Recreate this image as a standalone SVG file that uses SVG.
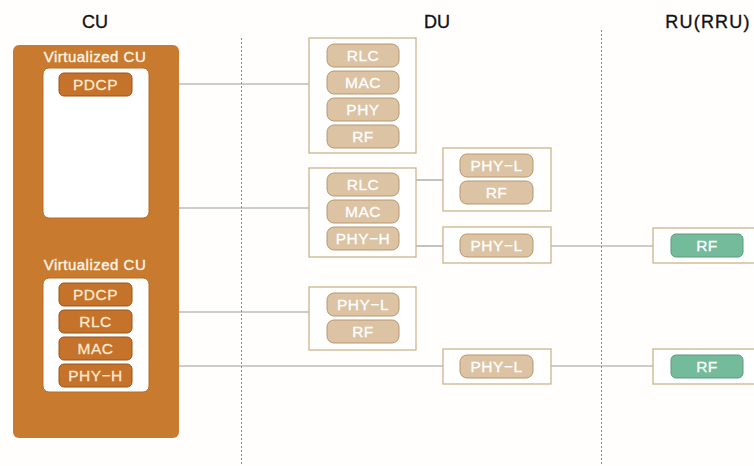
<svg xmlns="http://www.w3.org/2000/svg" width="754" height="466" viewBox="0 0 754 466">
<style>
text{font-family:"Liberation Sans",Arial,sans-serif;text-anchor:middle;dominant-baseline:central}
.title{font-size:18px;fill:#111;stroke:#111;stroke-width:0.35}
.vcu{font-size:15px;fill:#fff4e6;stroke:#fff4e6;stroke-width:0.4;letter-spacing:0.5px}
.inner{fill:#fff;stroke:#b86a22;stroke-width:1}
.op{fill:#c5722a;stroke:#9a5418;stroke-width:1}
.opt{font-size:15.5px;fill:#fde9cf;stroke:#fde9cf;stroke-width:0.3;letter-spacing:0.5px}
.box{fill:#fff;stroke:#cbb48c;stroke-width:1.3}
.tp{fill:#dcc3a4;stroke:#b8966c;stroke-width:1}
.tpt{font-size:15.5px;fill:#fff;stroke:#fff;stroke-width:0.3;letter-spacing:0.5px}
.gp{fill:#74bb9c;stroke:#5a9a7e;stroke-width:1}
.conn line{stroke:#9a9a9a;stroke-width:1.2}
.sep{stroke:#888;stroke-width:1;stroke-dasharray:2 2}
</style>
<rect width="754" height="466" fill="#fffefc"/>
<g id="titles">
<text class="title" x="95" y="22">CU</text>
<text class="title" x="437" y="22">DU</text>
<text class="title" x="708" y="22" style="letter-spacing:1.2px">RU(RRU)</text>
</g>
<g id="separators">
<line class="sep" x1="241.5" y1="38" x2="241.5" y2="466"/>
<line class="sep" x1="601.5" y1="30" x2="601.5" y2="466"/>
</g>
<g class="conn" id="connectors">
<line x1="179" y1="84" x2="309" y2="84"/>
<line x1="179" y1="208" x2="309" y2="208"/>
<line x1="179" y1="312" x2="309" y2="312"/>
<line x1="179" y1="366" x2="443" y2="366"/>
<line x1="416" y1="180" x2="443" y2="180"/>
<line x1="416" y1="246" x2="443" y2="246"/>
<line x1="551" y1="246" x2="653" y2="246"/>
<line x1="551" y1="366" x2="653" y2="366"/>
</g>
<g id="cu">
<rect x="13" y="45" width="166" height="393" rx="6" fill="#c87a2e"/>
<g id="vcu1">
<text class="vcu" x="95" y="56">Virtualized CU</text>
<rect class="inner" x="43" y="68" width="106" height="150" rx="6"/>
<rect class="op" x="59" y="73" width="73" height="23" rx="5"/>
<text class="opt" x="95.5" y="84.5">PDCP</text>
</g>
<g id="vcu2">
<text class="vcu" x="95" y="264">Virtualized CU</text>
<rect class="inner" x="43" y="278" width="106" height="114" rx="6"/>
<rect class="op" x="59" y="283" width="73" height="23" rx="5"/>
<text class="opt" x="95.5" y="294.5">PDCP</text>
<rect class="op" x="59" y="310" width="73" height="23" rx="5"/>
<text class="opt" x="95.5" y="321.5">RLC</text>
<rect class="op" x="59" y="337" width="73" height="23" rx="5"/>
<text class="opt" x="95.5" y="348.5">MAC</text>
<rect class="op" x="59" y="364" width="73" height="23" rx="5"/>
<text class="opt" x="95.5" y="375.5">PHY−H</text>
</g>
</g>
<g id="du1">
<rect class="box" x="309" y="38" width="107" height="115"/>
<rect class="tp" x="327" y="44" width="72" height="23" rx="7"/>
<text class="tpt" x="363" y="55.5">RLC</text>
<rect class="tp" x="327" y="71" width="72" height="23" rx="7"/>
<text class="tpt" x="363" y="82.5">MAC</text>
<rect class="tp" x="327" y="98" width="72" height="23" rx="7"/>
<text class="tpt" x="363" y="109.5">PHY</text>
<rect class="tp" x="327" y="125" width="72" height="23" rx="7"/>
<text class="tpt" x="363" y="136.5">RF</text>
</g>
<g id="du2">
<rect class="box" x="309" y="168" width="107" height="89"/>
<rect class="tp" x="327" y="173" width="72" height="23" rx="7"/>
<text class="tpt" x="363" y="184.5">RLC</text>
<rect class="tp" x="327" y="200" width="72" height="23" rx="7"/>
<text class="tpt" x="363" y="211.5">MAC</text>
<rect class="tp" x="327" y="227" width="72" height="23" rx="7"/>
<text class="tpt" x="363" y="238.5">PHY−H</text>
</g>
<g id="du3">
<rect class="box" x="443" y="148" width="108" height="63"/>
<rect class="tp" x="460" y="154" width="73" height="23" rx="7"/>
<text class="tpt" x="496.5" y="165.5">PHY−L</text>
<rect class="tp" x="460" y="181" width="73" height="23" rx="7"/>
<text class="tpt" x="496.5" y="192.5">RF</text>
</g>
<g id="du4">
<rect class="box" x="443" y="227" width="108" height="36"/>
<rect class="tp" x="460" y="234" width="73" height="23" rx="7"/>
<text class="tpt" x="496.5" y="245.5">PHY−L</text>
</g>
<g id="du5">
<rect class="box" x="309" y="287" width="107" height="63"/>
<rect class="tp" x="327" y="293" width="72" height="23" rx="7"/>
<text class="tpt" x="363" y="304.5">PHY−L</text>
<rect class="tp" x="327" y="320" width="72" height="23" rx="7"/>
<text class="tpt" x="363" y="331.5">RF</text>
</g>
<g id="du6">
<rect class="box" x="443" y="349" width="108" height="35"/>
<rect class="tp" x="460" y="355" width="73" height="23" rx="7"/>
<text class="tpt" x="496.5" y="366.5">PHY−L</text>
</g>
<g id="ru1">
<rect class="box" x="653" y="228" width="110" height="35"/>
<rect class="gp" x="671" y="234" width="72" height="23" rx="5"/>
<text class="tpt" x="707" y="245.5">RF</text>
</g>
<g id="ru2">
<rect class="box" x="653" y="349" width="110" height="35"/>
<rect class="gp" x="671" y="355" width="72" height="23" rx="5"/>
<text class="tpt" x="707" y="366.5">RF</text>
</g>
</svg>
